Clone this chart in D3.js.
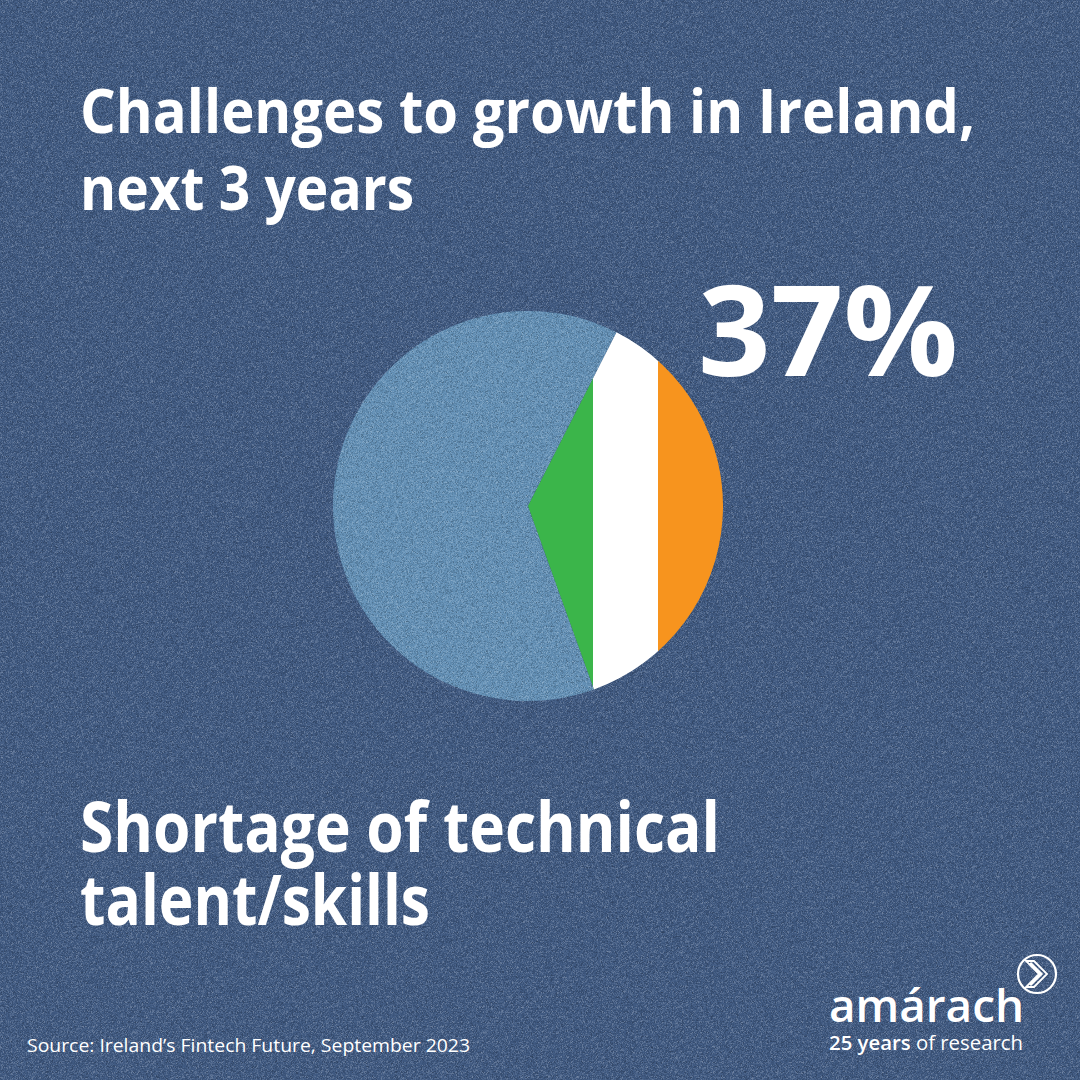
<!DOCTYPE html>
<html lang="en">
<head>
    <meta charset="UTF-8">
    <title>Challenges to growth in Ireland</title>
    <script src="https://d3js.org/d3.v7.min.js"></script>
    <style>
        body { margin: 0; background: #405a82; }
        svg { display: block; }
        text { fill: #ffffff; font-family: "Open Sans", "Noto Sans", sans-serif; }
    </style>
</head>
<body>
    <svg id="chart"></svg>
    <script>
        // Data
        const categories = ["Shortage of technical talent/skills", "Other"];
        const values = [37, 63];
        const stripes = ["green", "white", "orange"];
        const stripeColors = ["#3bb54a", "#ffffff", "#f7941e"];
        const titleLines = ["Challenges to growth in Ireland,", "next 3 years"];
        const labelLines = ["Shortage of technical", "talent/skills"];
        const sourceText = "Source: Ireland\u2019s Fintech Future, September 2023";

        const width = 1080, height = 1080;
        const cx = 528, cy = 506, r = 195;
        const startDeg = 27;

        const svg = d3.select("#chart").attr("width", width).attr("height", height);
        const defs = svg.append("defs");

        // grain: fine dark specks and light specks, roughly balanced
        function grainFilter(id, rgb, k) {
            const f = defs.append("filter").attr("id", id)
                .attr("x", 0).attr("y", 0).attr("width", "100%").attr("height", "100%");
            f.append("feTurbulence").attr("type", "fractalNoise")
                .attr("baseFrequency", 2.2).attr("numOctaves", 1).attr("seed", 5).attr("result", "n");
            f.append("feColorMatrix").attr("in", "n").attr("type", "matrix")
                .attr("values", `0 0 0 0 ${rgb}  0 0 0 0 ${rgb}  0 0 0 0 ${rgb}  ${k} 0 0 0 ${-k * 0.5}`);
        }
        grainFilter("grainDark", 0, 0.9);
        grainFilter("grainLight", 1, -0.9);

        svg.append("rect").attr("width", width).attr("height", height).attr("fill", "#405a82");

        // Pie
        const pie = d3.pie().sort(null)
            .startAngle(startDeg * Math.PI / 180)
            .endAngle(startDeg * Math.PI / 180 + 2 * Math.PI);
        const arcs = pie(values);
        const arc = d3.arc().innerRadius(0).outerRadius(r);

        const g = svg.append("g").attr("transform", `translate(${cx},${cy})`);

        g.append("path").attr("d", arc(arcs[1])).attr("fill", "#6390b6");

        defs.append("clipPath").attr("id", "slice")
            .append("path").attr("d", arc(arcs[0]));

        const x = d3.scaleBand().domain(stripes).range([0, r]);
        g.append("g").attr("clip-path", "url(#slice)")
            .selectAll("rect").data(stripes).join("rect")
            .attr("x", d => x(d))
            .attr("y", -r)
            .attr("width", x.bandwidth() + 0.5)
            .attr("height", 2 * r)
            .attr("fill", (d, i) => stripeColors[i]);

        // grain overlay, kept off the flag slice
        defs.append("mask").attr("id", "noFlag")
            .call(m => {
                m.append("rect").attr("width", width).attr("height", height).attr("fill", "#fff");
                m.append("path").attr("transform", `translate(${cx},${cy})`)
                    .attr("d", arc(arcs[0])).attr("fill", "#000");
            });
        const grain = svg.append("g").attr("mask", "url(#noFlag)");
        grain.append("rect").attr("width", width).attr("height", height)
            .attr("filter", "url(#grainDark)");
        grain.append("rect").attr("width", width).attr("height", height)
            .attr("filter", "url(#grainLight)");

        // Texts
        function fitText(sel, w) { sel.attr("textLength", w).attr("lengthAdjust", "spacingAndGlyphs"); }

        const titleW = [895, 334];
        titleLines.forEach((t, i) => {
            svg.append("text").attr("x", 80).attr("y", 133 + i * 77)
                .attr("font-size", 60).attr("font-weight", 700).text(t)
                .call(fitText, titleW[i]);
        });

        svg.append("text").attr("x", 698).attr("y", 376)
            .attr("font-size", 125).attr("font-weight", 700)
            .text(values[0] + "%").call(fitText, 260);

        const labelW = [640, 350];
        labelLines.forEach((t, i) => {
            svg.append("text").attr("x", 80).attr("y", 852 + i * 73)
                .attr("font-size", 70).attr("font-weight", 700).text(t)
                .call(fitText, labelW[i]);
        });

        svg.append("text").attr("x", 27).attr("y", 1052)
            .attr("font-size", 19).attr("font-weight", 400).text(sourceText)
            .call(fitText, 443);

        // Logo
        const logo = svg.append("g");
        logo.append("circle").attr("cx", 1037).attr("cy", 974).attr("r", 19)
            .attr("fill", "none").attr("stroke", "#ffffff").attr("stroke-width", 2.2);
        logo.append("path")
            .attr("d", "M1026,961 L1034,961 L1047,974 L1034,987 L1026,987 L1039,974 Z")
            .attr("fill", "none").attr("stroke", "#ffffff").attr("stroke-width", 1.8)
            .attr("stroke-linejoin", "miter");
        logo.append("path")
            .attr("d", "M1030,963 L1041,974 L1030,985")
            .attr("fill", "none").attr("stroke", "#ffffff").attr("stroke-width", 3);

        logo.append("text").attr("x", 829).attr("y", 1022)
            .attr("font-size", 45).attr("font-weight", 600).text("amárach")
            .call(fitText, 195);
        logo.append("text").attr("x", 829).attr("y", 1050)
            .attr("font-size", 20).attr("font-weight", 400)
            .call(fitText, 194)
            .call(t => {
                t.append("tspan").attr("font-weight", 600).text("25 years");
                t.append("tspan").text(" of research");
            });
    </script>
</body>
</html>
